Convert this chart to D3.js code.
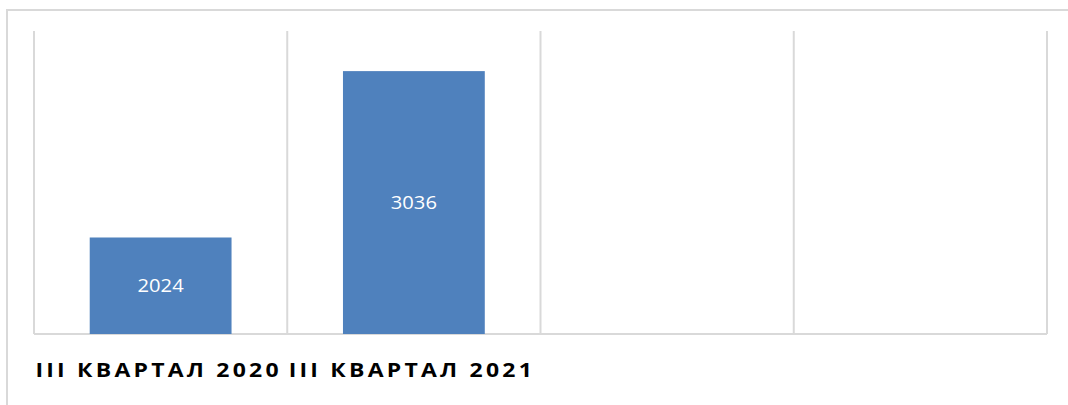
<!DOCTYPE html>
<html>
<head>
<meta charset="utf-8">
<script src="https://cdn.jsdelivr.net/npm/d3@7"></script>
<style>
  body { margin: 0; background: #fff; }
  svg { display: block; }
</style>
</head>
<body>
<div id="chart"></div>
<script>
// data
const categories = ["III КВАРТАЛ 2020", "III КВАРТАЛ 2021", "", ""];
const values = [2024, 3036, null, null];
const yDomain = [1437, 3280];

const width = 1068, height = 405;
const plot = { left: 34, right: 1047, top: 31, bottom: 334 };

const svg = d3.select("#chart").append("svg")
    .attr("width", width)
    .attr("height", height);

// outer frame, runs off the bottom/right of the page
svg.append("rect")
    .attr("x", 7).attr("y", 10)
    .attr("width", 1120).attr("height", 500)
    .attr("fill", "none")
    .attr("stroke", "#d9d9d9")
    .attr("stroke-width", 2);

const x = d3.scaleBand()
    .domain(d3.range(categories.length))
    .range([plot.left, plot.right])
    .padding(0);

const y = d3.scaleLinear()
    .domain(yDomain)
    .range([plot.bottom, plot.top]);

// vertical gridlines at category edges
const edges = d3.range(categories.length).map(i => x(i)).concat([plot.right]);
svg.append("g")
    .selectAll("line")
    .data(edges)
    .enter().append("line")
    .attr("x1", d => d).attr("x2", d => d)
    .attr("y1", plot.top).attr("y2", plot.bottom)
    .attr("stroke", "#d9d9d9")
    .attr("stroke-width", 2);

// baseline
svg.append("line")
    .attr("x1", plot.left).attr("x2", plot.right)
    .attr("y1", plot.bottom).attr("y2", plot.bottom)
    .attr("stroke", "#d9d9d9")
    .attr("stroke-width", 2);

const barW = x.bandwidth() * 0.56;
const data = values.map((v, i) => ({ i, v })).filter(d => d.v != null);

svg.append("g")
    .selectAll("rect")
    .data(data)
    .enter().append("rect")
    .attr("x", d => x(d.i) + (x.bandwidth() - barW) / 2)
    .attr("y", d => y(d.v))
    .attr("width", barW)
    .attr("height", d => plot.bottom - y(d.v))
    .attr("fill", "#4f81bd");

// value labels, a bit wider than Open Sans normally is
svg.append("g")
    .selectAll("text")
    .data(data)
    .enter().append("text")
    .attr("transform", d => `translate(${x(d.i) + x.bandwidth() / 2},${(y(d.v) + plot.bottom) / 2}) scale(1.12,1)`)
    .attr("dy", "0.35em")
    .attr("text-anchor", "middle")
    .attr("fill", "#fff")
    .style("font-family", "'Open Sans', sans-serif")
    .style("font-size", "18px")
    .text(d => d.v);

// category labels
svg.append("g")
    .selectAll("text")
    .data(categories)
    .enter().append("text")
    .attr("transform", (d, i) => `translate(${x(i) + x.bandwidth() / 2 - 2},377) scale(1.15,1)`)
    .attr("text-anchor", "middle")
    .attr("fill", "#000")
    .style("font-family", "'Open Sans', sans-serif")
    .style("font-weight", "bold")
    .style("font-size", "20px")
    .style("letter-spacing", "2.8px")
    .text(d => d);
</script>
</body>
</html>
